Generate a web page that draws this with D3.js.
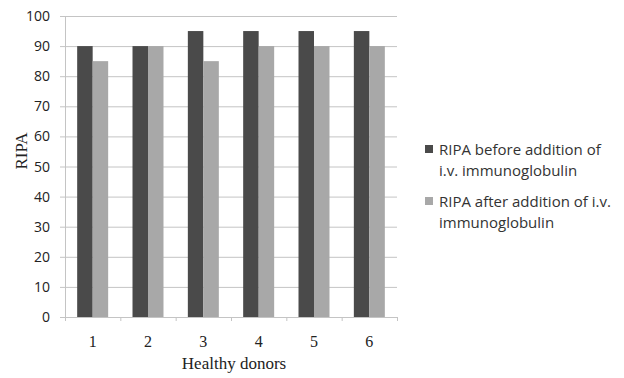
<!DOCTYPE html>
<html><head><meta charset="utf-8">
<script src="https://cdn.jsdelivr.net/npm/d3@7"></script>
<style>body{margin:0;background:#fff}</style>
</head><body><svg id="c" width="624" height="378"></svg>
<script>
const categories = ["1","2","3","4","5","6"];
const before = [90,90,95,95,95,95];
const after = [85,90,85,90,90,90];
const seriesNames = ["RIPA before addition of|i.v. immunoglobulin","RIPA after addition of i.v.|immunoglobulin"];
const yTicks = [0,10,20,30,40,50,60,70,80,90,100];
const colors = ["#4a4a4a","#a8a8a8"];

const svg = d3.select("#c");
const L=65,R=397,T=16,B=317;
const x = d3.scaleBand().domain(categories).range([L,R]).paddingInner(0.44).paddingOuter(0.22);
const y = d3.scaleLinear().domain([0,100]).range([B,T]);
const x1 = d3.scaleBand().domain([0,1]).range([0,x.bandwidth()]);

// gridlines
svg.append("g").selectAll("line").data(yTicks).join("line")
  .attr("x1",L-5).attr("x2",R).attr("y1",d=>y(d)+0.5).attr("y2",d=>y(d)+0.5)
  .attr("stroke","#c4c4c4").attr("stroke-width",1);
// y axis line
svg.append("line").attr("x1",L+0.5).attr("x2",L+0.5).attr("y1",T).attr("y2",B).attr("stroke","#c4c4c4");
// y labels
svg.append("g").selectAll("text").data(yTicks).join("text")
  .attr("x",50).attr("y",d=>y(d)+5).attr("text-anchor","end")
  .attr("font-family","'Open Sans',sans-serif").attr("font-size",14).attr("fill","#222").text(d=>d);

// bars
const series=[before,after];
series.forEach((vals,si)=>{
  svg.append("g").selectAll("rect").data(vals).join("rect")
    .attr("x",(d,i)=>x(categories[i])+x1(si)).attr("width",x1.bandwidth())
    .attr("y",d=>y(d)).attr("height",d=>y(0)-y(d)).attr("fill",colors[si]);
});

// x axis
const xa = svg.append("g").attr("transform",`translate(0,${B})`)
  .call(d3.axisBottom(x).tickSize(0).tickPadding(19));
xa.select(".domain").attr("stroke","#c4c4c4");
xa.selectAll("text").attr("font-family","'Liberation Serif',serif").attr("font-size",16).attr("fill","#222");
// category boundary ticks
const bounds = d3.range(categories.length+1).map(i=>L+i*(R-L)/categories.length);
svg.append("g").selectAll("line").data(bounds).join("line")
  .attr("x1",d=>d+0.5).attr("x2",d=>d+0.5).attr("y1",B).attr("y2",B+4).attr("stroke","#c4c4c4");

svg.append("text").attr("x",(L+R)/2+3).attr("y",369).attr("text-anchor","middle")
  .attr("font-family","'Liberation Serif',serif").attr("font-size",17).attr("fill","#222").text("Healthy donors");
svg.append("text").attr("transform","translate(27,151) rotate(-90)").attr("text-anchor","middle")
  .attr("font-family","'Liberation Serif',serif").attr("font-size",17).attr("fill","#222").text("RIPA");

// legend
const lg = svg.append("g");
const ly=[145,197];
seriesNames.forEach((n,i)=>{
  lg.append("rect").attr("x",425).attr("y",ly[i]).attr("width",8).attr("height",8).attr("fill",colors[i]);
  n.split("|").forEach((line,j)=>{
    lg.append("text").attr("x",439).attr("y",ly[i]+10+j*21)
      .attr("font-family","'Open Sans',sans-serif").attr("font-size",15).attr("fill","#333").text(line);
  });
});
</script></body></html>
